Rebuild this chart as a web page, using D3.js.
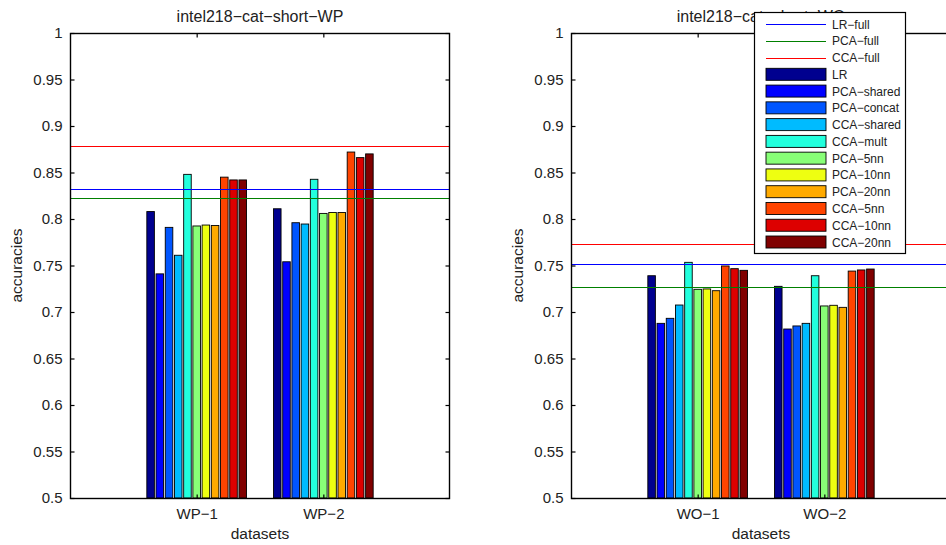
<!DOCTYPE html>
<html><head><meta charset="utf-8">
<script src="https://cdn.jsdelivr.net/npm/d3@7"></script>
<style>body{margin:0;background:#fff}svg{display:block}text{font-family:"Liberation Sans",Arial,Helvetica,sans-serif;fill:#222}</style>
</head><body><div id="chart"></div>
<script>
const methods = ["LR","PCA−shared","PCA−concat","CCA−shared","CCA−mult","PCA−5nn","PCA−10nn","PCA−20nn","CCA−5nn","CCA−10nn","CCA−20nn"];
const methodColors = ["#00008f","#0000ff","#0055ff","#00bbff","#22ffdd","#88ff77","#eeff11","#ffaa00","#ff4400","#dd0000","#800000"];
const refNames = ["LR−full","PCA−full","CCA−full"];
const refColors = ["#0000ff","#008000","#ff0000"];
const yTicks = [0.5,0.55,0.6,0.65,0.7,0.75,0.8,0.85,0.9,0.95,1];

const titleWP = "intel218−cat−short−WP";
const categoriesWP = ["WP−1","WP−2"];
const valuesWP1 = [0.808,0.741,0.791,0.761,0.848,0.7925,0.7935,0.793,0.845,0.842,0.842];
const valuesWP2 = [0.811,0.754,0.796,0.7946,0.8427,0.806,0.807,0.807,0.872,0.866,0.870];
const refWP = [0.8326,0.8222,0.878];

const titleWO = "intel218−cat−short−WO";
const categoriesWO = ["WO−1","WO−2"];
const valuesWO1 = [0.739,0.6878,0.6932,0.7075,0.7534,0.7244,0.7248,0.7229,0.7495,0.7466,0.7448];
const valuesWO2 = [0.7276,0.6817,0.685,0.6878,0.739,0.7065,0.7072,0.705,0.744,0.7452,0.7462];
const refWO = [0.7513,0.7266,0.7731];

const W = 946, H = 545;
const svg = d3.select("#chart").append("svg").attr("width", W).attr("height", H);
const defs = svg.append("defs");

function panel(id, left, title, cats, series, refs) {
  const top = 33, bottom = 498, right = left + 380;
  const x = d3.scaleLinear().domain([0, 3]).range([left, right]);
  const y = d3.scaleLinear().domain([0.5, 1]).range([bottom, top]);
  defs.append("clipPath").attr("id", "clip" + id).append("rect")
    .attr("x", left).attr("y", top).attr("width", right - left).attr("height", bottom - top);
  const g = svg.append("g");
  const plot = g.append("g").attr("clip-path", `url(#clip${id})`);
  const n = methods.length, gw = 0.8, slot = gw / n;
  series.forEach((vals, gi) => {
    vals.forEach((v, j) => {
      const cx = gi + 1 - gw / 2 + (j + 0.5) * slot;
      const x0 = x(cx - slot * 0.41), x1 = x(cx + slot * 0.41);
      plot.append("rect").attr("x", x0).attr("y", y(v)).attr("width", x1 - x0)
        .attr("height", y(0.5) - y(v)).attr("fill", methodColors[j])
        .attr("stroke", "#000").attr("stroke-width", 0.9);
    });
  });
  refs.forEach((v, i) => {
    plot.append("line").attr("x1", left).attr("x2", right)
      .attr("y1", Math.round(y(v)) + 0.5).attr("y2", Math.round(y(v)) + 0.5)
      .attr("stroke", refColors[i]).attr("stroke-width", 1.2);
  });
  // axes
  const yl = g.append("g").attr("transform", `translate(${left + 0.5},0)`)
    .call(d3.axisLeft(y).tickValues(yTicks).tickSize(-4).tickPadding(8).tickFormat(d3.format("")));
  const yr = g.append("g").attr("transform", `translate(${right - 0.5},0)`)
    .call(d3.axisRight(y).tickValues(yTicks).tickSize(-4).tickFormat(""));
  const xb = g.append("g").attr("transform", `translate(0,${bottom + 0.5})`)
    .call(d3.axisBottom(x).tickValues([1, 2]).tickSize(-4).tickPadding(10).tickFormat((d) => cats[d - 1]));
  const xt = g.append("g").attr("transform", `translate(0,${top + 0.5})`)
    .call(d3.axisTop(x).tickValues([1, 2]).tickSize(-4).tickFormat(""));
  [yl, yr, xb, xt].forEach(a => {
    a.selectAll(".domain").remove();
    a.selectAll("line").attr("stroke", "#000").attr("stroke-width", 1.2);
    a.selectAll("text").style("font-size", "15px").attr("fill", "#222");
  });
  g.append("rect").attr("x", left + 0.5).attr("y", top + 0.5).attr("width", right - left - 1)
    .attr("height", bottom - top).attr("fill", "none").attr("stroke", "#000").attr("stroke-width", 1.4);
  g.append("text").attr("x", (left + right) / 2).attr("y", 22).attr("text-anchor", "middle")
    .style("font-size", "16px").text(title);
  g.append("text").attr("x", (left + right) / 2).attr("y", 539).attr("text-anchor", "middle")
    .style("font-size", "15.5px").text("datasets");
  g.append("text").attr("transform", `translate(${left - 48},${(top + bottom) / 2}) rotate(-90)`)
    .attr("text-anchor", "middle").style("font-size", "15.5px").text("accuracies");
}

panel("a", 70, titleWP, categoriesWP, [valuesWP1, valuesWP2], refWP);
panel("b", 571, titleWO, categoriesWO, [valuesWO1, valuesWO2], refWO);

// legend
const lg = svg.append("g");
lg.append("rect").attr("x", 754.5).attr("y", 12.5).attr("width", 151).attr("height", 241)
  .attr("fill", "#fff").attr("stroke", "#000").attr("stroke-width", 1.2);
const rowY = i => 24 + i * 16.77;
refNames.forEach((nm, i) => {
  lg.append("line").attr("x1", 766).attr("x2", 826).attr("y1", Math.round(rowY(i)) + 0.5).attr("y2", Math.round(rowY(i)) + 0.5)
    .attr("stroke", refColors[i]).attr("stroke-width", 1);
  lg.append("text").attr("x", 832).attr("y", rowY(i) + 4.5).style("font-size", "12px").text(nm);
});
methods.forEach((nm, j) => {
  const i = j + 3;
  lg.append("rect").attr("x", 766).attr("y", rowY(i) - 6).attr("width", 60).attr("height", 12)
    .attr("fill", methodColors[j]).attr("stroke", "#000").attr("stroke-width", 0.9);
  lg.append("text").attr("x", 832).attr("y", rowY(i) + 4.5).style("font-size", "12px").text(nm);
});
</script></body></html>
